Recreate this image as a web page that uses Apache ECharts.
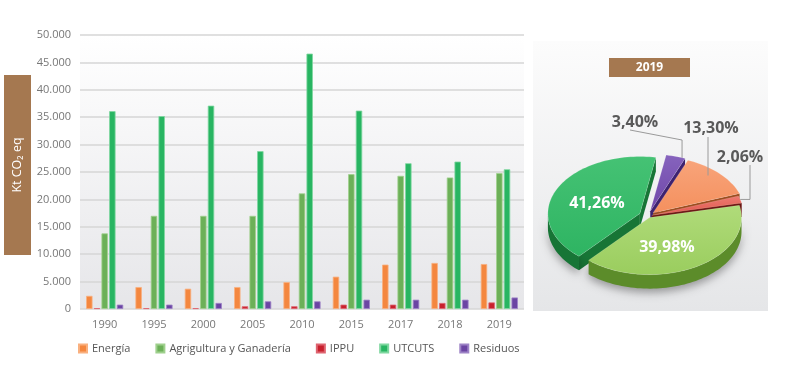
<!DOCTYPE html>
<html><head><meta charset="utf-8">
<script src="https://cdn.jsdelivr.net/npm/echarts@6/dist/echarts.min.js"></script>
<style>html,body{margin:0;padding:0;background:#fff}#c{width:810px;height:367px}</style>
</head><body><div id="c"></div>
<script>
// ---- data ----
const years = ['1990','1995','2000','2005','2010','2015','2017','2018','2019'];
const energia  = [2400, 4000, 3700, 4000, 4900, 5900, 8100, 8400, 8200];
const ippu     = [150, 150, 150, 500, 500, 800, 800, 1100, 1200];
const agri     = [13800, 17000, 17000, 17000, 21100, 24600, 24300, 24000, 24800];
const utcuts   = [36100, 35200, 37100, 28800, 46600, 36200, 26600, 26900, 25500];
const residuos = [800, 800, 1100, 1400, 1400, 1700, 1700, 1700, 2100];
const legendOrder = ['Energía','Agrigultura y Ganadería','IPPU','UTCUTS','Residuos'];
const pieYear = '2019';
const pieNames  = ['Residuos','Energía','IPPU','Agrigultura y Ganadería','UTCUTS'];
const pieShares = [3.40, 13.30, 2.06, 39.98, 41.26];
const yAxisTitle = 'Kt CO\u2082 eq';

// ---- styling ----
const FONT = '"Open Sans", "Noto Sans", sans-serif';
const col = {e:'#F4873F', i:'#C8202D', a:'#6CB058', u:'#28B562', r:'#6B45A3'};
const PIE = {cx:648, cy:216, rx:92, k:0.62, depth:14, start:10};
const pieTop  = ['#6E46A8','#F4905E','#E0584F','#9ACD5E','#2EB462'];
const pieTopL = ['#8663BD','#F8A47A','#EC7A70','#B0DB7A','#45C274'];
const pieSide = ['#3E2270','#9A4A1C','#6A1411','#5C8C2A','#177536'];
const explode = [8, 7, 4, 3, 9];

const total = pieShares.reduce((a,b)=>a+b,0);
const angles = []; let acc = PIE.start;
pieShares.forEach(v=>{const s=acc; acc += v/total*360; angles.push([s,acc]);});
function pt(a, r, ox, oy, dz){const t=a*Math.PI/180; return [PIE.cx+ox+r*Math.sin(t), PIE.cy+oy-r*PIE.k*Math.cos(t)+(dz||0)];}
const fmtPct = v => v.toFixed(2).replace('.',',') + '%';

// label layout relative to pie centre
const labelCfg = [
  {dx:-13, dy:-94, inside:false},
  {dx:63, dy:-88, inside:false},
  {dx:92, dy:-59, inside:false},
  {dx:19, dy:31, inside:true},
  {dx:-51, dy:-13, inside:true}
];

function renderPie(params, api){
  const i = params.dataIndex;
  const [a0,a1] = angles[i];
  const mid=(a0+a1)/2, tm=mid*Math.PI/180;
  const e=explode[i];
  const ox=e*Math.sin(tm), oy=-e*PIE.k*Math.cos(tm);
  const R=PIE.rx, D=PIE.depth;
  const apex=[PIE.cx+ox, PIE.cy+oy];
  const arc=[]; const n=Math.max(4,Math.ceil((a1-a0)/2));
  for(let j=0;j<=n;j++) arc.push(pt(a0+(a1-a0)*j/n,R,ox,oy));
  const children=[];
  [[90,270],[450,630]].forEach(([lo,hi])=>{
    const s=Math.max(a0,lo), t=Math.min(a1,hi);
    if(t>s){
      const top=[],bot=[]; const m=Math.max(2,Math.ceil((t-s)/2));
      for(let j=0;j<=m;j++){const a=s+(t-s)*j/m; top.push(pt(a,R,ox,oy)); bot.push(pt(a,R,ox,oy,D));}
      const my = top.reduce((q,p)=>q+p[1],0)/top.length;
      children.push({type:'polygon', z2: 10+Math.round(my/10), shape:{points: top.concat(bot.reverse())},
        style:{fill: pieSide[i], shadowBlur:8, shadowColor:'rgba(0,0,0,0.35)', shadowOffsetY:4}});
    }
  });
  [[a0, a0-90],[a1, a1+90]].forEach(([a,nrm])=>{
    if(Math.cos(nrm*Math.PI/180) < 0){
      const p=pt(a,R,ox,oy);
      children.push({type:'polygon', z2: 5+Math.round((apex[1]+p[1])/20),
        shape:{points:[apex,p,[p[0],p[1]+D],[apex[0],apex[1]+D]]},
        style:{fill: pieSide[i]}});
    }
  });
  children.push({type:'polygon', z2:100, shape:{points:[apex].concat(arc)},
    style:{fill:{type:'linear',x:0,y:0,x2:0,y2:1,colorStops:[{offset:0,color:pieTopL[i]},{offset:1,color:pieTop[i]}]},
      stroke:'rgba(255,255,255,0.25)', lineWidth:0.6}});
  const L = labelCfg[i];
  const lx = PIE.cx+L.dx, ly = PIE.cy+L.dy;
  children.push({type:'text', z2:200, x:lx, y:ly, style:{text: fmtPct(api.value(0)), fill: L.inside?'#ffffff':'#595959',
    font:'bold 16px '+FONT, align:'center', verticalAlign:'middle'}});
  if(!L.inside){
    const anc = pt(mid, R, ox, oy);
    let pts;
    if(i===0){ const q=pt(a1-2,R,ox,oy); pts=[[lx-5,ly+8],[q[0],ly+18],q]; }
    else if(i===1){ pts=[[lx-3,ly+9],[lx-3,anc[1]+2]]; }
    else { pts=[[lx+10,ly+8],[lx+10,anc[1]],[anc[0],anc[1]]]; }
    children.push({type:'polyline', z2:150, shape:{points:pts}, style:{stroke:'#9a9a9a', lineWidth:1, fill:null}});
  }
  return {type:'group', children};
}

const chart = echarts.init(document.getElementById('c'));
const barBase = {type:'bar', barWidth:6.4, barGap:'20%'};
chart.setOption({
  animation:false,
  textStyle:{fontFamily:FONT},
  grid:{left:80, right:286, top:35, bottom:58, show:true, borderWidth:0,
    backgroundColor:{type:'linear',x:0,y:0,x2:0,y2:1,colorStops:[{offset:0,color:'#ffffff'},{offset:1,color:'#e6e6e9'}]}},
  xAxis:{type:'category', data:years, axisLine:{show:false}, axisTick:{show:false},
    axisLabel:{color:'#777', fontSize:11, margin:10, fontFamily:FONT}},
  yAxis:{type:'value', min:0, max:50000, interval:5000, axisLine:{show:false}, axisTick:{show:false},
    axisLabel:{color:'#777', fontSize:11, margin:9, fontFamily:FONT,
      formatter:v=>String(v).replace(/\B(?=(\d{3})+(?!\d))/g,'.')},
    splitLine:{lineStyle:{color:'#d6d6d6', width:1.5}}},
  legend:{data:legendOrder, left:73, top:338, itemWidth:8, itemHeight:8, itemGap:25, icon:'rect',
    textStyle:{color:'#555', fontSize:11, fontFamily:FONT}},
  graphic:[
    {type:'rect', z:0, shape:{x:533, y:41, width:235, height:270},
      style:{fill:{type:'linear',x:0,y:0,x2:0,y2:1,colorStops:[{offset:0,color:'#fcfcfc'},{offset:1,color:'#e5e6e8'}]}}},
    {type:'rect', z:1, shape:{x:609, y:58, width:81, height:19}, style:{fill:'#A57850'}},
    {type:'text', z:2, x:649.5, y:67.5, style:{text:pieYear, fill:'#fff', font:'bold 12px '+FONT, align:'center', verticalAlign:'middle'}},
    {type:'rect', z:1, shape:{x:4, y:75, width:27, height:180}, style:{fill:'#A57850'}},
    {type:'text', z:2, x:17.5, y:165, rotation:Math.PI/2, style:{text:yAxisTitle, fill:'#fff', font:'12.5px '+FONT, align:'center', verticalAlign:'middle'}}
  ],
  series:[
    Object.assign({}, barBase, {name:'Energía', data:energia, itemStyle:{color:col.e, borderColor:'#f9b07f', borderWidth:0.8}}),
    Object.assign({}, barBase, {name:'IPPU', data:ippu, itemStyle:{color:col.i, borderColor:'#de6470', borderWidth:0.8}}),
    Object.assign({}, barBase, {name:'Agrigultura y Ganadería', data:agri, itemStyle:{color:col.a, borderColor:'#9fd08d', borderWidth:0.8}}),
    Object.assign({}, barBase, {name:'UTCUTS', data:utcuts, itemStyle:{color:col.u, borderColor:'#7fd79f', borderWidth:0.8}}),
    Object.assign({}, barBase, {name:'Residuos', data:residuos, itemStyle:{color:col.r, borderColor:'#9d83c6', borderWidth:0.8}}),
    {type:'custom', name:'pie'+pieYear, coordinateSystem:'none', renderItem:renderPie,
      data:pieShares.map((v,i)=>({name:pieNames[i], value:[v]})), silent:true}
  ]
});
</script></body></html>
